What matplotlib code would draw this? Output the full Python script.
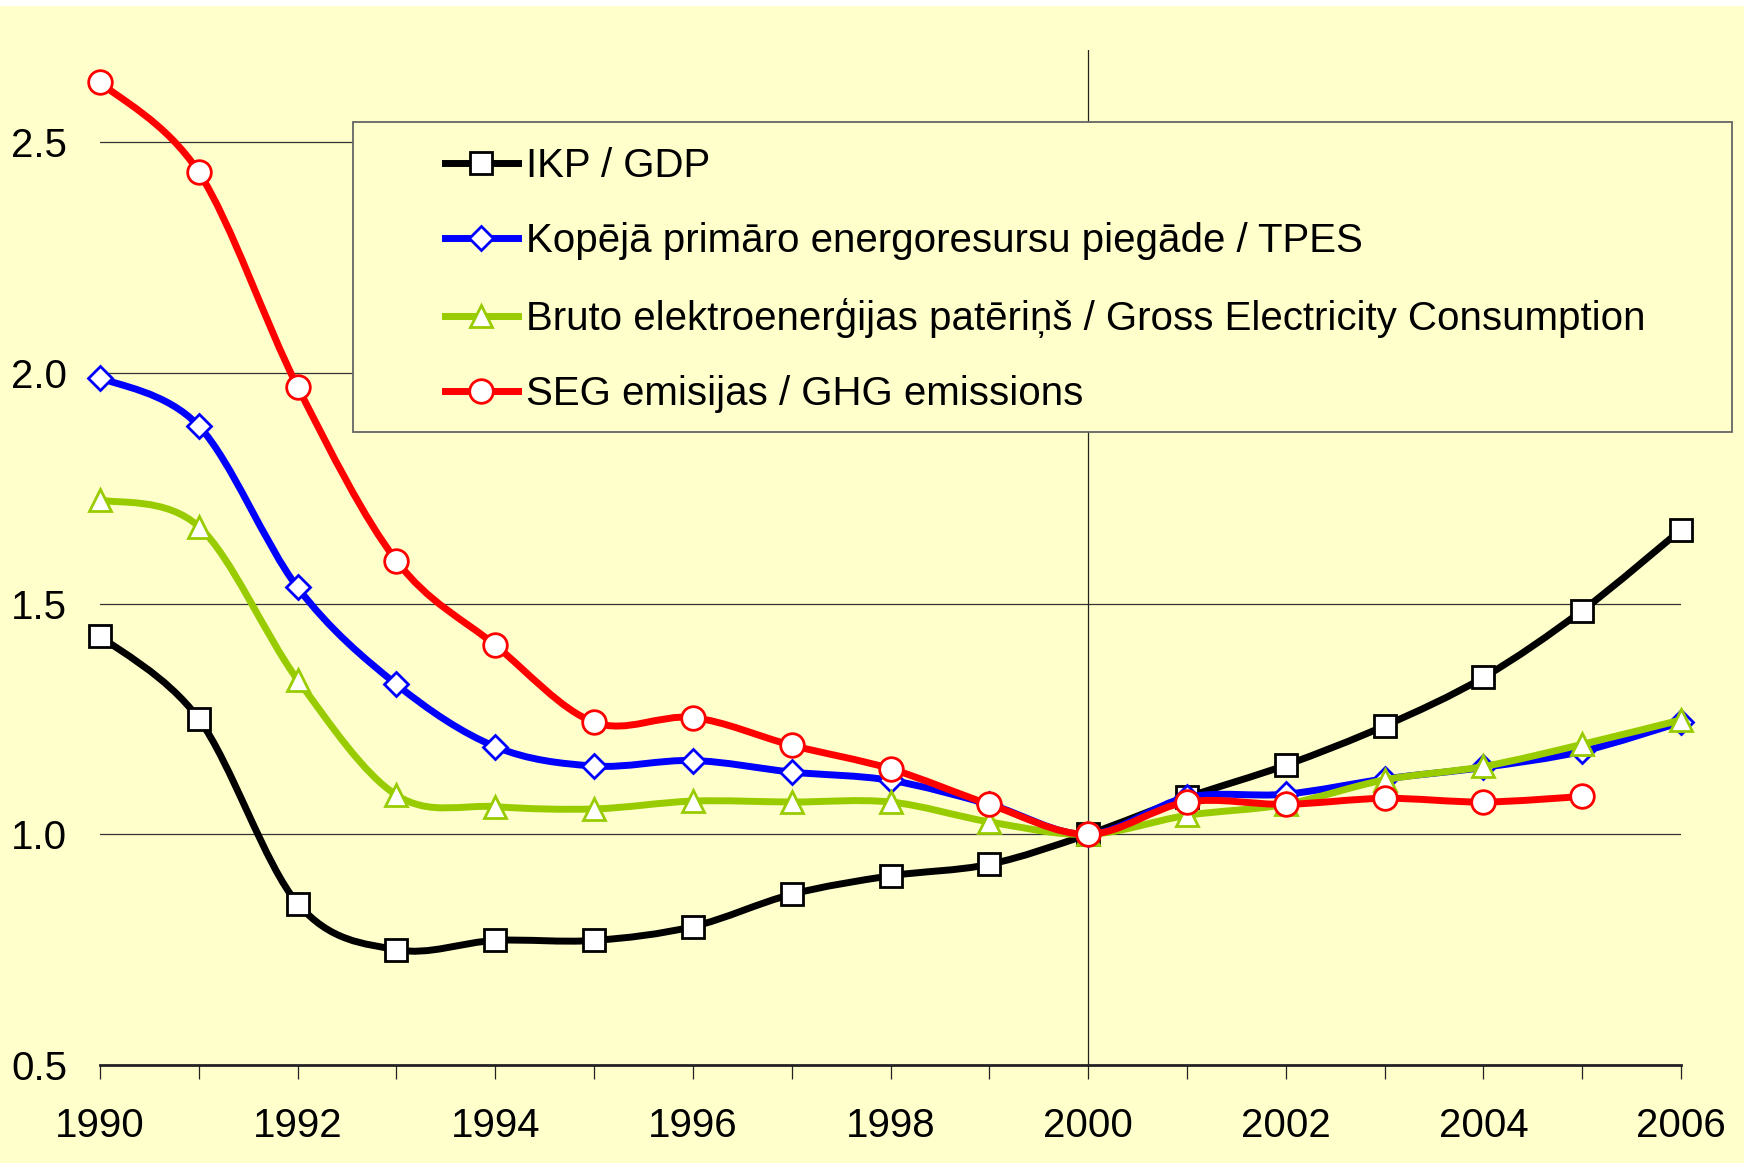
#!/usr/bin/env python3

import numpy as np
import matplotlib
matplotlib.use("Agg")
import matplotlib.pyplot as plt
from matplotlib.path import Path
from matplotlib.patches import PathPatch, Rectangle
from matplotlib.lines import Line2D

plt.rcParams["font.family"] = ["Liberation Sans", "DejaVu Sans"]

# Data (index, 2000 = 1.0)
years = list(range(1990, 2007))
gdp = [1.43, 1.25, 0.85, 0.75, 0.77, 0.77, 0.80, 0.87, 0.91, 0.935, 1.0,
       1.08, 1.15, 1.235, 1.34, 1.485, 1.66]
tpes = [1.99, 1.885, 1.535, 1.325, 1.19, 1.148, 1.16, 1.135, 1.117, 1.065, 1.0,
        1.08, 1.087, 1.12, 1.145, 1.18, 1.243]
elec = [1.725, 1.667, 1.335, 1.085, 1.06, 1.055, 1.072, 1.07, 1.07, 1.027, 1.0,
        1.041, 1.065, 1.118, 1.147, 1.195, 1.248]
ghg_years = list(range(1990, 2006))
ghg = [2.63, 2.435, 1.97, 1.593, 1.41, 1.243, 1.253, 1.193, 1.142, 1.065, 1.0,
       1.07, 1.065, 1.078, 1.07, 1.082]

labels = ["IKP / GDP",
          "Kopējā primāro energoresursu piegāde / TPES",
          "Bruto elektroenerģijas patēriņš / Gross Electricity Consumption",
          "SEG emisijas / GHG emissions"]
colors = ["black", "#0000FF", "#99CC00", "#FF0000"]
markers = ["s", "D", "^", "o"]
msizes = [16, 12, 16, 17]

BG = "#FFFFCC"


def smooth_path(x, y):
    """Excel-like smoothed line: cubic Bezier through the points."""
    pts = np.column_stack([x, y]).astype(float)
    n = len(pts)
    verts = [pts[0]]
    codes = [Path.MOVETO]
    for i in range(n - 1):
        p0 = pts[i - 1] if i > 0 else pts[i]
        p1 = pts[i]
        p2 = pts[i + 1]
        p3 = pts[i + 2] if i + 2 < n else pts[i + 1]
        c1 = p1 + (p2 - p0) / 6.0
        c2 = p2 - (p3 - p1) / 6.0
        verts += [c1, c2, p2]
        codes += [Path.CURVE4] * 3
    return Path(verts, codes)


fig = plt.figure(figsize=(17.44, 11.63), dpi=100, facecolor=BG)
fig.patches.append(Rectangle((0, 1 - 6 / 1163), 1, 6 / 1163, transform=fig.transFigure,
                             facecolor="white", edgecolor="none"))
ax = fig.add_axes([100 / 1744, 1 - 1065 / 1163, 1581 / 1744, 1015 / 1163])
ax.set_facecolor(BG)

# Gridlines and the vertical axis at 2000
for yv in [1.0, 1.5, 2.0, 2.5]:
    ax.axhline(yv, color="#333333", lw=0.9, zorder=1)
ax.axvline(2000, color="#222222", lw=0.9, zorder=1)

series = [(years, gdp), (years, tpes), (years, elec), (ghg_years, ghg)]
for k, (xs, ys) in enumerate(series):
    patch = PathPatch(smooth_path(xs, ys), transform=ax.transData, fill=False,
                      edgecolor=colors[k], lw=5, capstyle="round",
                      joinstyle="round", zorder=3 + k)
    patch.set_clip_on(False)
    ax.add_patch(patch)
    ax.plot(xs, ys, linestyle="none", marker=markers[k], ms=msizes[k],
            mfc="white", mec=colors[k], mew=2, zorder=3.5 + k, clip_on=False)

ax.set_xlim(1990, 2006)
ax.set_ylim(0.5, 2.7)

for s in ["top", "right", "left"]:
    ax.spines[s].set_visible(False)
ax.spines["bottom"].set_linewidth(2)
ax.spines["bottom"].set_color("#222222")

ax.set_xticks(years)
ax.set_xticklabels([str(y) if y % 2 == 0 else "" for y in years])
ax.tick_params(axis="x", direction="out", length=10, width=0.9, color="#222222",
               labelsize=29, pad=20)
ax.set_yticks([0.5, 1.0, 1.5, 2.0, 2.5])
ax.set_yticklabels(["0.5", "1.0", "1.5", "2.0", "2.5"])
ax.tick_params(axis="y", left=False, labelsize=29, pad=20)

# Legend box
box = Rectangle((353 / 1744, 1 - 432 / 1163), 1379 / 1744, 310 / 1163,
                transform=fig.transFigure, facecolor=BG, edgecolor="#666666",
                lw=1.3, zorder=10)
fig.patches.append(box)

handles = [Line2D([], [], color=colors[k], lw=5, marker=markers[k], ms=msizes[k],
                  mfc="white", mec=colors[k], mew=2) for k in range(4)]
leg = fig.legend(handles, labels, loc="upper left",
                 bbox_to_anchor=(445 / 1744, 1 - 147 / 1163),
                 frameon=False, fontsize=29, handlelength=1.8,
                 handletextpad=0.22, labelspacing=0.93, borderpad=0,
                 borderaxespad=0)
leg.set_zorder(11)

fig.savefig("out.png", dpi=100, facecolor=BG)
